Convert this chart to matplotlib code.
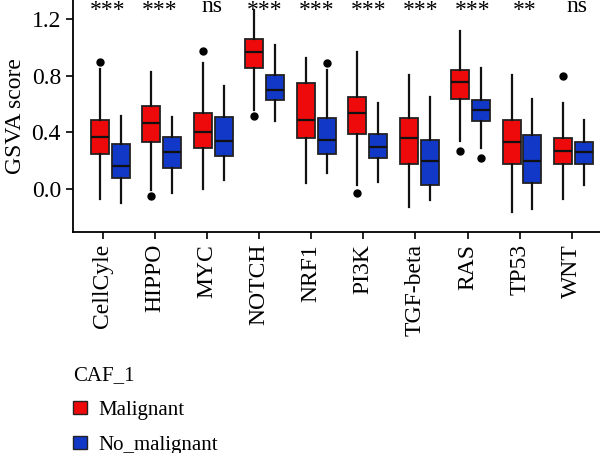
import numpy as np
import matplotlib
matplotlib.use('Agg')
import matplotlib.pyplot as plt
from matplotlib.patches import Patch

plt.rcParams['font.family'] = ['Liberation Serif', 'DejaVu Serif']

# pathways and per-group box summaries (GSVA score)
pathways = ['CellCyle', 'HIPPO', 'MYC', 'NOTCH', 'NRF1', 'PI3K', 'TGF-beta', 'RAS', 'TP53', 'WNT']
signif = ['***', '***', 'ns', '***', '***', '***', '***', '***', '**', 'ns']

mal_low = [-0.07, -0.01, 0.00, 0.56, 0.04, 0.03, -0.13, 0.34, -0.16, -0.07]
mal_q1 = [0.25, 0.33, 0.29, 0.86, 0.36, 0.39, 0.18, 0.64, 0.18, 0.18]
mal_med = [0.37, 0.47, 0.40, 0.97, 0.49, 0.54, 0.36, 0.76, 0.33, 0.27]
mal_q3 = [0.49, 0.59, 0.54, 1.06, 0.75, 0.65, 0.50, 0.84, 0.49, 0.36]
mal_high = [0.85, 0.83, 0.89, 1.27, 0.93, 0.97, 0.81, 1.12, 0.81, 0.61]
mal_out = [[0.90], [-0.05], [0.98], [0.52], [], [-0.03], [], [0.27], [], [0.80]]

non_low = [-0.10, -0.03, 0.06, 0.48, 0.11, 0.05, -0.08, 0.29, -0.14, 0.03]
non_q1 = [0.08, 0.15, 0.23, 0.63, 0.25, 0.22, 0.03, 0.48, 0.04, 0.18]
non_med = [0.16, 0.26, 0.34, 0.70, 0.35, 0.30, 0.20, 0.56, 0.20, 0.26]
non_q3 = [0.32, 0.37, 0.51, 0.81, 0.50, 0.39, 0.35, 0.63, 0.38, 0.33]
non_high = [0.52, 0.51, 0.73, 1.02, 0.84, 0.61, 0.65, 0.86, 0.64, 0.49]
non_out = [[], [], [], [], [0.89], [], [], [0.22], [], []]

red = '#EE0A0A'
blue = '#1238C8'


def make_stats(low, q1, med, q3, high, out):
    return [dict(whislo=a, q1=b, med=c, q3=d, whishi=e, fliers=f)
            for a, b, c, d, e, f in zip(low, q1, med, q3, high, out)]


fig = plt.figure(figsize=(6, 4.53), dpi=100)
ax = fig.add_axes([0.1212, 0.4872, 0.8788, 0.5128])

x = np.arange(len(pathways))
centers = x * 0.987 + 0.148
width = 0.345

groups = [
    (make_stats(mal_low, mal_q1, mal_med, mal_q3, mal_high, mal_out), centers - 0.2, red),
    (make_stats(non_low, non_q1, non_med, non_q3, non_high, non_out), centers + 0.2, blue),
]
for stats, pos, col in groups:
    ax.bxp(stats, positions=pos, widths=width, patch_artist=True, showcaps=False,
           boxprops=dict(facecolor=col, edgecolor='#222222', linewidth=1.3),
           medianprops=dict(color='#111111', linewidth=1.6),
           whiskerprops=dict(color='#111111', linewidth=1.6),
           flierprops=dict(marker='o', markerfacecolor='black', markeredgecolor='black',
                           markersize=5),
           manage_ticks=False)

# significance labels above each pathway
for xi, s in zip(x, signif):
    yy = 1.225 if '*' in s else 1.25
    ax.text(xi + 0.1, yy, s, ha='center', va='baseline', fontsize=17, clip_on=False)

ax.set_xlim(-0.575, 9.54)
ax.set_ylim(-0.307, 1.338)
ax.set_xticks(x)
ax.set_xticklabels(pathways, rotation=90, fontsize=17)
ax.set_yticks([0.0, 0.4, 0.8, 1.2])
ax.set_yticklabels(['0.0', '0.4', '0.8', '1.2'], fontsize=17)
ax.set_ylabel('GSVA score', fontsize=17)
ax.tick_params(length=5, width=1.2, color='black')
ax.spines['top'].set_visible(False)
ax.spines['right'].set_visible(False)
for sp in ['left', 'bottom']:
    ax.spines[sp].set_linewidth(1.3)

handles = [Patch(facecolor=red, edgecolor='#222222', label='Malignant'),
           Patch(facecolor=blue, edgecolor='#222222', label='No_malignant')]
leg = fig.legend(handles=handles, title='CAF_1', loc='upper left',
                 bbox_to_anchor=(0.105, 0.214), frameon=False, fontsize=15,
                 title_fontsize=15, alignment='left', handlelength=0.65,
                 handleheight=0.6, labelspacing=0.75, handletextpad=0.55, borderpad=0)

fig.savefig('out.png', dpi=100)
